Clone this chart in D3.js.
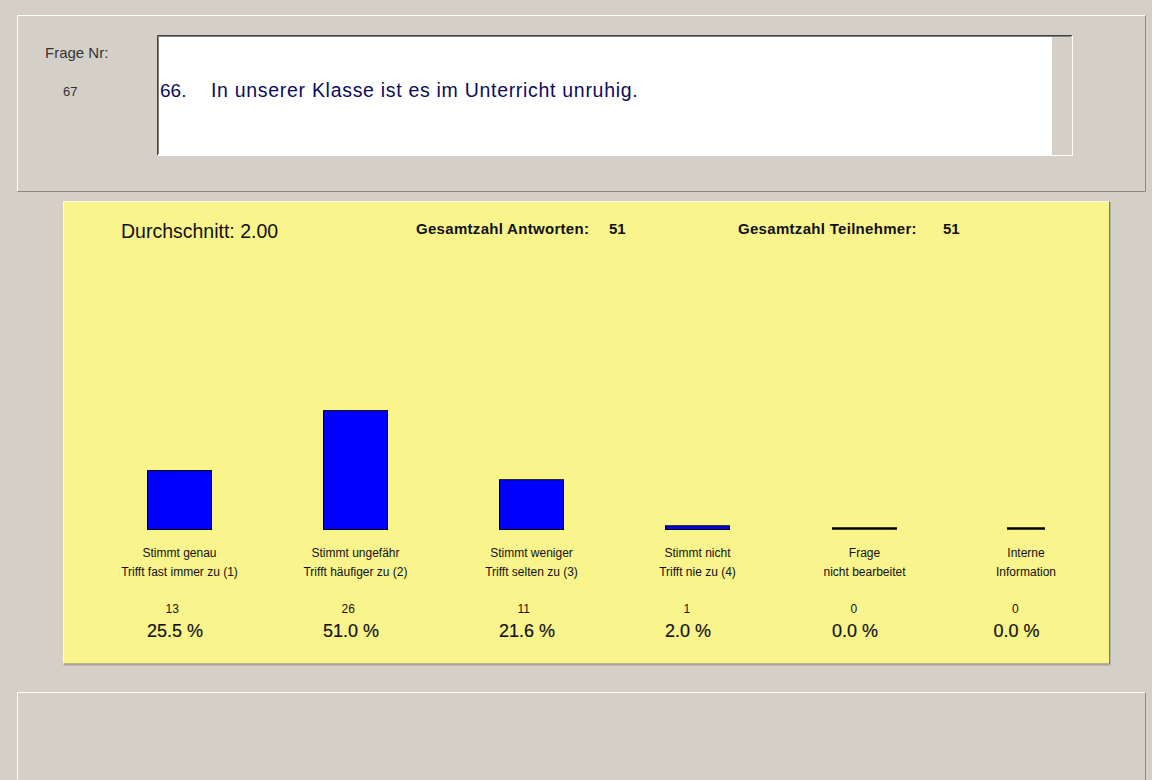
<!DOCTYPE html>
<html>
<head>
<meta charset="utf-8">
<script src="https://cdn.jsdelivr.net/npm/d3@7"></script>
<style>
  body { margin: 0; background: #d4d0c8; }
  svg { display: block; font-family: "Liberation Sans", Arial, sans-serif; }
</style>
</head>
<body>
<div id="chart"></div>
<script>
// question header
const questionNr = 67;
const questionIndex = "66.";
const questionText = "In unserer Klasse ist es im Unterricht unruhig.";

// summary values
const average = 2.00;
const totalAnswers = 51;
const totalParticipants = 51;

// answer categories
const labelsTop = ["Stimmt genau", "Stimmt ungefähr", "Stimmt weniger", "Stimmt nicht", "Frage", "Interne"];
const labelsBottom = ["Trifft fast immer zu (1)", "Trifft häufiger zu (2)", "Trifft selten zu (3)", "Trifft nie zu (4)", "nicht bearbeitet", "Information"];
const counts = [13, 26, 11, 1, 0, 0];
const percents = [25.5, 51.0, 21.6, 2.0, 0.0, 0.0];

const width = 1152;
const height = 780;
const gray = "#d4d0c8";
const yellow = "#faf48c";

const svg = d3.select("#chart").append("svg")
  .attr("width", width)
  .attr("height", height);

// helper for the windows style frames
function frame(x0, y0, x1, y1, light, dark) {
  svg.append("line").attr("x1", x0).attr("y1", y0).attr("x2", x1).attr("y2", y0).attr("stroke", light);
  svg.append("line").attr("x1", x0).attr("y1", y0).attr("x2", x0).attr("y2", y1).attr("stroke", light);
  svg.append("line").attr("x1", x0).attr("y1", y1).attr("x2", x1).attr("y2", y1).attr("stroke", dark);
  svg.append("line").attr("x1", x1).attr("y1", y0).attr("x2", x1).attr("y2", y1).attr("stroke", dark);
}

// top panel
svg.append("rect").attr("x", 17).attr("y", 15).attr("width", 1129).attr("height", 177).attr("fill", gray);
frame(17.5, 15.5, 1145.5, 191.5, "#ffffff", "#8a8a8a");

svg.append("text").attr("x", 45).attr("y", 58)
  .attr("font-size", 15).attr("fill", "#333")
  .text("Frage Nr:");
svg.append("text").attr("x", 63).attr("y", 96)
  .attr("font-size", 13).attr("fill", "#333")
  .text(questionNr);

// question text box
svg.append("rect").attr("x", 157).attr("y", 35).attr("width", 915).attr("height", 120).attr("fill", "#fff");
svg.append("rect").attr("x", 1052).attr("y", 36).attr("width", 20).attr("height", 119).attr("fill", gray);
frame(157.5, 35.5, 1072.5, 155.5, "#404040", "#ffffff");
svg.append("line").attr("x1", 158.5).attr("y1", 36.5).attr("x2", 1071).attr("y2", 36.5).attr("stroke", "#808080");
svg.append("line").attr("x1", 158.5).attr("y1", 36.5).attr("x2", 158.5).attr("y2", 154).attr("stroke", "#808080");

svg.append("text").attr("x", 160).attr("y", 97)
  .attr("font-size", 19).attr("fill", "#0b0b5e")
  .text(questionIndex);
svg.append("text").attr("x", 211).attr("y", 97)
  .attr("font-size", 19.5).attr("letter-spacing", 0.7).attr("fill", "#0b0b5e")
  .text(questionText);

// yellow chart panel
svg.append("rect").attr("x", 63).attr("y", 201).attr("width", 1046).attr("height", 463).attr("fill", yellow);
frame(63.5, 201.5, 1109.5, 664, "#fffbe0", "#7a7a7a");
svg.append("line").attr("x1", 64).attr("y1", 665.5).attr("x2", 1110.5).attr("y2", 665.5).attr("stroke", "#b8b4ac");
svg.append("line").attr("x1", 1110.5).attr("y1", 202).attr("x2", 1110.5).attr("y2", 665.5).attr("stroke", "#b8b4ac");

svg.append("text").attr("x", 121).attr("y", 238)
  .attr("font-size", 19.5).attr("fill", "#111")
  .text(`Durchschnitt: ${average.toFixed(2)}`);

const head = svg.append("g")
  .attr("font-size", 15).attr("font-weight", "bold").attr("fill", "#111");
head.append("text").attr("x", 416).attr("y", 234).attr("letter-spacing", 0.3).text("Gesamtzahl Antworten:");
head.append("text").attr("x", 609).attr("y", 234).text(totalAnswers);
head.append("text").attr("x", 738).attr("y", 234).attr("letter-spacing", 0.3).text("Gesamtzahl Teilnehmer:");
head.append("text").attr("x", 943).attr("y", 234).text(totalParticipants);

// scales
const x = d3.scaleOrdinal()
  .domain(labelsTop)
  .range([179.5, 355.5, 531.5, 697.5, 864.5, 1026]);
const barW = [65, 65, 65, 65, 65, 38];
const y = d3.scaleLinear().domain([0, 100]).range([530, 295]);

const data = labelsTop.map((d, i) => ({
  top: d, bottom: labelsBottom[i], count: counts[i], pct: percents[i], w: barW[i]
}));

const cols = svg.append("g").selectAll("g").data(data).join("g");

// bars (zero values appear as a black line on the baseline)
cols.filter(d => d.count > 0).append("rect")
  .attr("x", d => x(d.top) - d.w / 2 + 0.5)
  .attr("y", d => y(d.pct) + 0.5)
  .attr("width", d => d.w - 1)
  .attr("height", d => y(0) - y(d.pct) - 1)
  .attr("fill", "#0000ff")
  .attr("stroke", "#000")
  .attr("stroke-width", 1);

cols.filter(d => d.count === 0).append("line")
  .attr("x1", d => x(d.top) - d.w / 2)
  .attr("x2", d => x(d.top) + d.w / 2)
  .attr("y1", y(0) - 1.5)
  .attr("y2", y(0) - 1.5)
  .attr("stroke", "#000")
  .attr("stroke-width", 2.5);

// category labels
cols.append("text")
  .attr("x", d => x(d.top)).attr("y", 557)
  .attr("text-anchor", "middle").attr("font-size", 12).attr("fill", "#111")
  .text(d => d.top);
cols.append("text")
  .attr("x", d => x(d.top)).attr("y", 576)
  .attr("text-anchor", "middle").attr("font-size", 12).attr("fill", "#111")
  .text(d => d.bottom);

// counts and percentages
cols.append("text")
  .attr("x", d => x(d.top) - 14).attr("y", 613)
  .attr("font-size", 12).attr("fill", "#111")
  .text(d => d.count);
cols.append("text")
  .attr("x", d => x(d.top) - 32.5).attr("y", 637)
  .attr("font-size", 18).attr("fill", "#111")
  .attr("stroke", "#111").attr("stroke-width", 0.2)
  .text(d => `${d.pct.toFixed(1)} %`);

// bottom empty panel
svg.append("rect").attr("x", 17).attr("y", 692).attr("width", 1129).attr("height", 100).attr("fill", gray);
svg.append("line").attr("x1", 17.5).attr("y1", 692.5).attr("x2", 1145.5).attr("y2", 692.5).attr("stroke", "#ffffff");
svg.append("line").attr("x1", 17.5).attr("y1", 692.5).attr("x2", 17.5).attr("y2", 780).attr("stroke", "#ffffff");
svg.append("line").attr("x1", 1145.5).attr("y1", 692.5).attr("x2", 1145.5).attr("y2", 780).attr("stroke", "#8a8a8a");
</script>
</body>
</html>
